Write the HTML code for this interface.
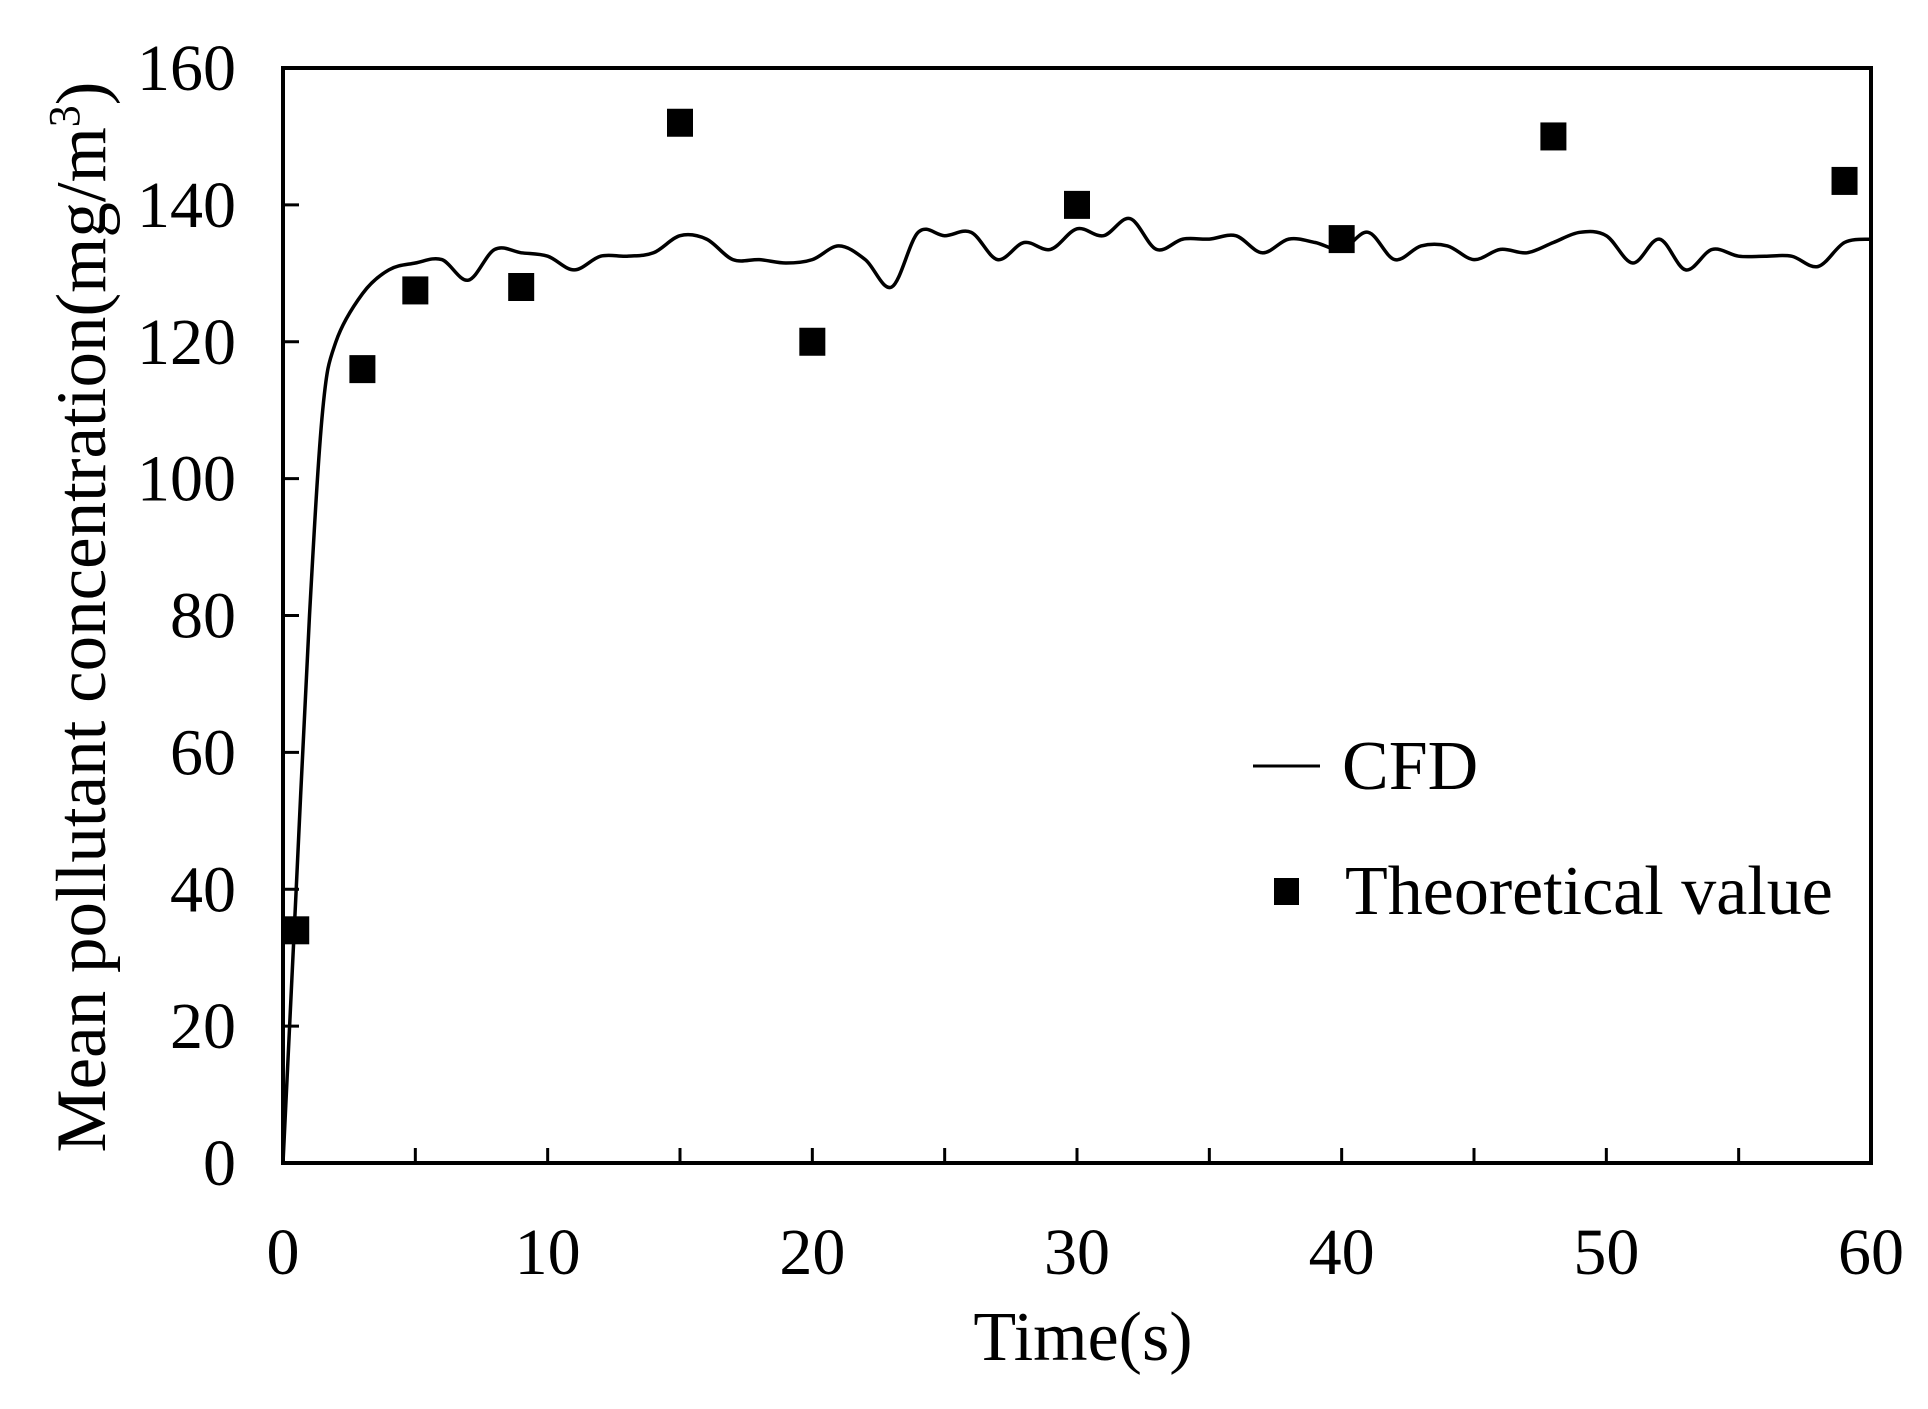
<!DOCTYPE html>
<html><head><meta charset="utf-8"><style>
html,body{margin:0;padding:0;background:#fff;}
svg{display:block;}
text{font-family:"Liberation Serif",serif;fill:#000;}
</style></head><body>
<svg id="chart" width="1928" height="1409" viewBox="0 0 1928 1409" xmlns="http://www.w3.org/2000/svg">
</svg>
<script>
const xTicks=[0,10,20,30,40,50,60];
const yTicks=[0,20,40,60,80,100,120,140,160];
const cfdTime=[0,0.5,1,1.5,2,3,4,5,6,7,8,9,10,11,12,13,14,15,16,17,18,19,20,21,22,23,24,25,26,27,28,29,30,31,32,33,34,35,36,37,38,39,40,41,42,43,44,45,46,47,48,49,50,51,52,53,54,55,56,57,58,59,60];
const cfdValues=[0,40,80,110,120,127,130.5,131.5,132,129,133.5,133,132.5,130.5,132.5,132.5,133,135.5,135,132,132,131.5,132,134,132,128,136,135.5,136,132,134.5,133.5,136.5,135.5,138,133.5,135,135,135.5,133,135,134.5,133.5,136,132,134,134,132,133.5,133,134.5,136,135.5,131.5,135,130.5,133.5,132.5,132.5,132.5,131,134.5,135];
const theoTime=[0.5,3,5,9,15,20,30,40,48,59];
const theoValues=[34,116,127.5,128,152,120,140,135,150,143.5];

const L=283,R=1871,T=68,B=1163;
const sx=v=>L+(v-0)/(60-0)*(R-L);
const sy=v=>B-(v-0)/(160-0)*(B-T);
const svg=document.getElementById('chart');
const NS='http://www.w3.org/2000/svg';
function mk(tag,attrs){const e=document.createElementNS(NS,tag);for(const k in attrs)e.setAttribute(k,attrs[k]);svg.appendChild(e);return e;}

for(let v=5;v<60;v+=5){
  const t=mk('line',{x1:sx(v),x2:sx(v),y1:B,y2:B-15,stroke:'#000','stroke-width':3});
  
  
}
yTicks.forEach(v=>{
  const t=mk('line',{x1:L,x2:L+16,y1:sy(v),y2:sy(v),stroke:'#000','stroke-width':3});
  
  
  const lb=mk('text',{x:236,y:sy(v)+22,'text-anchor':'end','font-size':66});
  lb.textContent=v;
  
  
});
xTicks.forEach(v=>{
  const lb=mk('text',{x:sx(v),y:1274,'text-anchor':'middle','font-size':66});
  lb.textContent=v;
  
  
});

// CFD line (Catmull-Rom smoothing)
const pts=cfdTime.map((t,i)=>[sx(t),sy(cfdValues[i])]);
let d='M'+pts[0][0].toFixed(1)+','+pts[0][1].toFixed(1);
for(let i=0;i<pts.length-1;i++){
  const p0=pts[Math.max(0,i-1)],p1=pts[i],p2=pts[i+1],p3=pts[Math.min(pts.length-1,i+2)];
  const c1=[p1[0]+(p2[0]-p0[0])/6,p1[1]+(p2[1]-p0[1])/6];
  const c2=[p2[0]-(p3[0]-p1[0])/6,p2[1]-(p3[1]-p1[1])/6];
  d+='C'+c1[0].toFixed(1)+','+c1[1].toFixed(1)+' '+c2[0].toFixed(1)+','+c2[1].toFixed(1)+' '+p2[0].toFixed(1)+','+p2[1].toFixed(1);
}
const line=mk('path',{d:d,fill:'none',stroke:'#000','stroke-width':3.5,'stroke-linejoin':'round'});



theoTime.forEach((t,i)=>{
  const r=mk('rect',{x:sx(t)-13,y:sy(theoValues[i])-14,width:26,height:28,fill:'#000'});
  
  
});

const fr=mk('rect',{x:L,y:T,width:R-L,height:B-T,fill:'none',stroke:'#000','stroke-width':4});



const xt=mk('text',{x:1083,y:1360,'text-anchor':'middle','font-size':70});
xt.textContent='Time(s)';


const yt=mk('text',{x:0,y:0,'text-anchor':'middle','font-size':71,transform:'translate(105,617) rotate(-90)'});
yt.innerHTML='Mean pollutant concentration(mg/m<tspan font-size="44" dy="-26">3</tspan><tspan dy="26">)</tspan>';



const ll=mk('line',{x1:1253,x2:1320,y1:766,y2:766,stroke:'#000','stroke-width':3});


const lt=mk('text',{x:1342,y:789,'font-size':70});
lt.textContent='CFD';


const ls=mk('rect',{x:1274,y:878,width:25,height:27,fill:'#000'});


const lt2=mk('text',{x:1345,y:914,'font-size':70});
lt2.textContent='Theoretical value';


</script>
</body></html>
